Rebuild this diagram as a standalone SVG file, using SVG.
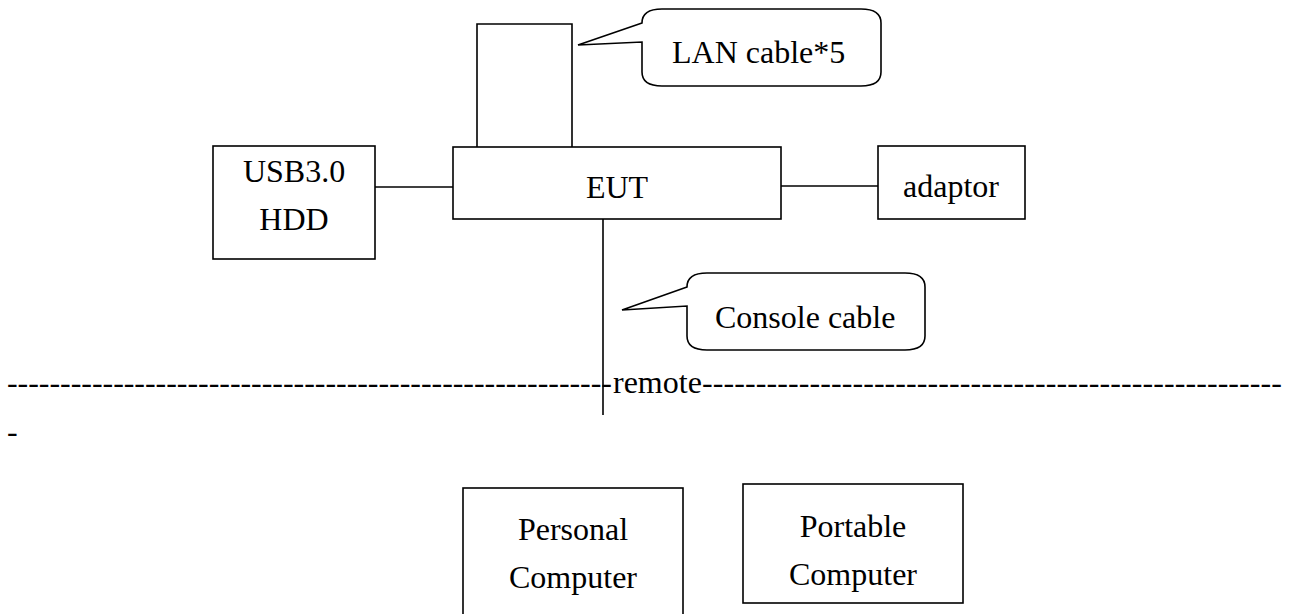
<svg xmlns="http://www.w3.org/2000/svg" width="1289" height="614" viewBox="0 0 1289 614" font-family="'Liberation Serif', 'Times New Roman', serif" font-size="32">
<style>
.box{fill:#fff;stroke:#000;stroke-width:1.6}
.ln{fill:none;stroke:#000;stroke-width:1.6}
.call{fill:#fff;stroke:#000;stroke-width:1.6;stroke-linejoin:miter}
text{font-family:'Liberation Serif','Times New Roman',serif;font-size:32px;fill:#000}
.c{text-anchor:middle}
</style>
<rect width="1289" height="614" fill="#fff"/>
<g id="connectors">
<polyline class="ln" points="477,147 477,24 572,24 572,147"/>
<line class="ln" x1="375" y1="187" x2="453" y2="187"/>
<line class="ln" x1="781" y1="186" x2="878" y2="186"/>
<line class="ln" x1="603" y1="219" x2="603" y2="415"/>
</g>
<g id="eut">
<rect class="box" x="453" y="147" width="328" height="72"/>
<text class="c" x="617" y="198">EUT</text>
</g>
<g id="usb-hdd">
<rect class="box" x="213" y="146" width="162" height="113"/>
<text class="c" x="294" y="182">USB3.0</text>
<text class="c" x="294" y="230">HDD</text>
</g>
<g id="adaptor">
<rect class="box" x="878" y="146" width="147" height="73"/>
<text class="c" x="951" y="197">adaptor</text>
</g>
<g id="lan-callout">
<path class="call" d="M642,23 L578,45 L642,42 L642,72 Q642,86 662,86 L861,86 Q881,86 881,72 L881,23 Q881,9 861,9 L662,9 Q642,9 642,23 Z"/>
<text x="672" y="63">LAN cable*5</text>
</g>
<g id="console-callout">
<path class="call" d="M687,287 L622,310 L687,306 L687,336 Q687,350 707,350 L905,350 Q925,350 925,336 L925,287 Q925,273 905,273 L707,273 Q687,273 687,287 Z"/>
<text x="715" y="328">Console cable</text>
</g>
<g id="remote-line">
<text x="7" y="393" textLength="605" lengthAdjust="spacing">---------------------------------------------------------</text>
<text x="613" y="393">remote</text>
<text x="702" y="393" textLength="580" lengthAdjust="spacing">------------------------------------------------------</text>
<text x="7" y="442">-</text>
</g>
<g id="personal-computer">
<rect class="box" x="463" y="488" width="220" height="127"/>
<text class="c" x="573" y="540">Personal</text>
<text class="c" x="573" y="588">Computer</text>
</g>
<g id="portable-computer">
<rect class="box" x="743" y="484" width="220" height="119"/>
<text class="c" x="853" y="537">Portable</text>
<text class="c" x="853" y="585">Computer</text>
</g>
</svg>
